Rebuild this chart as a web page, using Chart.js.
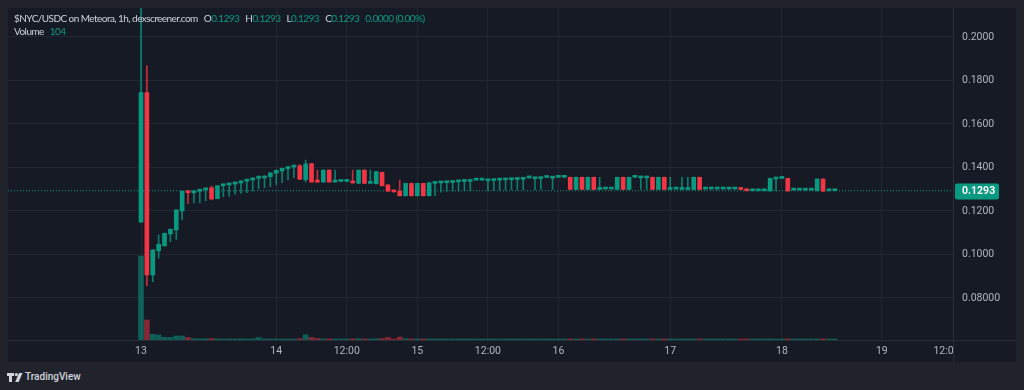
<!DOCTYPE html>
<html>
<head>
<meta charset="utf-8">
<title>$NYC/USDC on Meteora</title>
<script src="https://cdn.jsdelivr.net/npm/chart.js@4.4.1/dist/chart.umd.min.js"></script>
<style>
    html, body { margin: 0; padding: 0; width: 1024px; height: 390px; overflow: hidden; background: #20232c; font-family: Roboto, sans-serif; }
    #frame { position: absolute; left: 8px; top: 8px; width: 1008px; height: 354px; background: #161a25; }
    #chart { position: absolute; left: 0; top: 0; }
    #legend { position: absolute; left: 6px; top: 4px; font-family: Lato, sans-serif; font-size: 10px; line-height: 13px; letter-spacing: -0.55px; color: #d1d4dc; pointer-events: none; white-space: nowrap; }
    #legend .val { color: #089981; }
    #legend .gap { margin-left: 6px; }
    #brand { position: absolute; left: 7px; top: 371px; color: #d1d4dc; font-size: 10px; font-weight: 500; display: flex; align-items: center; gap: 2px; }
</style>
</head>
<body>
<div id="frame">
    <canvas id="chart" width="1008" height="354"></canvas>
    <div id="legend">
        <div id="legendLine1"></div>
        <div id="legendLine2"></div>
    </div>
</div>
<div id="brand">
    <svg width="16" height="10" viewBox="0 0 16 10"><path d="M0 1h7v3H5v6H2V4H0z M12 1h3.5l-3.8 9H8.2z" fill="#d1d4dc"/><circle cx="9.3" cy="2.6" r="1.6" fill="#d1d4dc"/></svg>
    <span>TradingView</span>
</div>
<script>
// ============================================
// $NYC/USDC - 1h candles (Meteora, dexscreener)
// ============================================

const pairName = '$NYC/USDC on Meteora, 1h, dexscreener.com';

// OHLC per hourly bar (bar 0 = 13th 00:00)
const opens = [
    0.1149, 0.1744, 0.0906, 0.1017, 0.1040, 0.1094, 0.1113, 0.1200, 0.1292, 0.1284,
    0.1291, 0.1297, 0.1307, 0.1257, 0.1316, 0.1320, 0.1324, 0.1329, 0.1337, 0.1343,
    0.1350, 0.1352, 0.1358, 0.1374, 0.1384, 0.1395, 0.1402, 0.1408, 0.1344, 0.1418,
    0.1338, 0.1333, 0.1388, 0.1333, 0.1336, 0.1336, 0.1333, 0.1327, 0.1388, 0.1327,
    0.1325, 0.1378, 0.1320, 0.1293, 0.1291, 0.1270, 0.1327, 0.1270, 0.1327, 0.1270,
    0.1327, 0.1329, 0.1330, 0.1331, 0.1334, 0.1336, 0.1336, 0.1342, 0.1342, 0.1339,
    0.1340, 0.1342, 0.1343, 0.1344, 0.1345, 0.1346, 0.1352, 0.1348, 0.1349, 0.1354,
    0.1351, 0.1355, 0.1355, 0.1355, 0.1299, 0.1355, 0.1299, 0.1355, 0.1299, 0.1301,
    0.1301, 0.1299, 0.1355, 0.1299, 0.1355, 0.1352, 0.1352, 0.1355, 0.1299, 0.1355,
    0.1299, 0.1301, 0.1299, 0.1299, 0.1299, 0.1355, 0.1301, 0.1301, 0.1301, 0.1301,
    0.1301, 0.1301, 0.1302, 0.1301, 0.1293, 0.1293, 0.1293, 0.1292, 0.1347, 0.1350,
    0.1350, 0.1296, 0.1296, 0.1296, 0.1296, 0.1293, 0.1347, 0.1293, 0.1293
];
const highs = [
    0.2500, 0.1867, 0.1022, 0.1090, 0.1099, 0.1118, 0.1206, 0.1292, 0.1294, 0.1293,
    0.1299, 0.1307, 0.1315, 0.1317, 0.1322, 0.1327, 0.1333, 0.1339, 0.1347, 0.1353,
    0.1361, 0.1362, 0.1376, 0.1388, 0.1397, 0.1405, 0.1409, 0.1413, 0.1434, 0.1419,
    0.1388, 0.1389, 0.1389, 0.1388, 0.1337, 0.1337, 0.1388, 0.1389, 0.1389, 0.1388,
    0.1382, 0.1379, 0.1321, 0.1294, 0.1342, 0.1328, 0.1328, 0.1328, 0.1328, 0.1331,
    0.1331, 0.1334, 0.1335, 0.1336, 0.1339, 0.1341, 0.1341, 0.1343, 0.1343, 0.1344,
    0.1345, 0.1347, 0.1348, 0.1349, 0.1350, 0.1351, 0.1353, 0.1353, 0.1354, 0.1355,
    0.1356, 0.1356, 0.1356, 0.1356, 0.1356, 0.1356, 0.1356, 0.1356, 0.1355, 0.1302,
    0.1302, 0.1356, 0.1356, 0.1356, 0.1356, 0.1357, 0.1357, 0.1356, 0.1356, 0.1356,
    0.1355, 0.1302, 0.1355, 0.1355, 0.1356, 0.1356, 0.1302, 0.1302, 0.1302, 0.1302,
    0.1302, 0.1302, 0.1303, 0.1302, 0.1297, 0.1297, 0.1297, 0.1351, 0.1351, 0.1351,
    0.1351, 0.1297, 0.1297, 0.1297, 0.1297, 0.1348, 0.1348, 0.1294, 0.1293
];
const lows = [
    0.1149, 0.0857, 0.0875, 0.0984, 0.1038, 0.1059, 0.1070, 0.1159, 0.1235, 0.1237,
    0.1238, 0.1247, 0.1251, 0.1256, 0.1266, 0.1268, 0.1277, 0.1281, 0.1284, 0.1292,
    0.1301, 0.1307, 0.1312, 0.1320, 0.1330, 0.1343, 0.1353, 0.1345, 0.1333, 0.1332,
    0.1332, 0.1332, 0.1332, 0.1332, 0.1335, 0.1335, 0.1328, 0.1326, 0.1326, 0.1326,
    0.1324, 0.1315, 0.1290, 0.1287, 0.1269, 0.1269, 0.1269, 0.1269, 0.1269, 0.1269,
    0.1270, 0.1287, 0.1290, 0.1291, 0.1292, 0.1293, 0.1293, 0.1341, 0.1341, 0.1295,
    0.1295, 0.1296, 0.1296, 0.1297, 0.1297, 0.1298, 0.1351, 0.1298, 0.1299, 0.1353,
    0.1299, 0.1354, 0.1354, 0.1299, 0.1298, 0.1299, 0.1298, 0.1299, 0.1298, 0.1300,
    0.1300, 0.1298, 0.1299, 0.1298, 0.1354, 0.1299, 0.1299, 0.1299, 0.1298, 0.1299,
    0.1298, 0.1300, 0.1298, 0.1298, 0.1298, 0.1299, 0.1300, 0.1300, 0.1300, 0.1300,
    0.1300, 0.1300, 0.1298, 0.1292, 0.1292, 0.1292, 0.1292, 0.1291, 0.1292, 0.1349,
    0.1291, 0.1295, 0.1295, 0.1295, 0.1295, 0.1292, 0.1290, 0.1292, 0.1293
];
const closes = [
    0.1744, 0.0906, 0.1021, 0.1047, 0.1097, 0.1116, 0.1205, 0.1291, 0.1284, 0.1292,
    0.1298, 0.1306, 0.1255, 0.1316, 0.1321, 0.1326, 0.1332, 0.1338, 0.1346, 0.1352,
    0.1360, 0.1361, 0.1375, 0.1387, 0.1396, 0.1404, 0.1408, 0.1346, 0.1416, 0.1333,
    0.1333, 0.1388, 0.1333, 0.1338, 0.1336, 0.1336, 0.1329, 0.1388, 0.1327, 0.1330,
    0.1381, 0.1316, 0.1291, 0.1288, 0.1270, 0.1327, 0.1270, 0.1327, 0.1270, 0.1330,
    0.1330, 0.1333, 0.1334, 0.1335, 0.1338, 0.1340, 0.1340, 0.1342, 0.1342, 0.1343,
    0.1344, 0.1346, 0.1347, 0.1348, 0.1349, 0.1350, 0.1352, 0.1352, 0.1353, 0.1354,
    0.1355, 0.1355, 0.1355, 0.1299, 0.1355, 0.1299, 0.1355, 0.1299, 0.1302, 0.1301,
    0.1301, 0.1355, 0.1299, 0.1355, 0.1355, 0.1356, 0.1356, 0.1299, 0.1355, 0.1299,
    0.1302, 0.1301, 0.1302, 0.1302, 0.1355, 0.1299, 0.1301, 0.1301, 0.1301, 0.1301,
    0.1301, 0.1301, 0.1299, 0.1293, 0.1296, 0.1296, 0.1296, 0.1350, 0.1350, 0.1350,
    0.1292, 0.1296, 0.1296, 0.1296, 0.1296, 0.1347, 0.1291, 0.1293, 0.1293
];
const volumes = [
    84000, 20000, 5700, 5000, 2700, 2700, 4000, 4000, 2600, 1300,
    1200, 1200, 1500, 1300, 1000, 1100, 1000, 1200, 1000, 1100,
    2500, 1100, 1000, 1100, 900, 1000, 1000, 1400, 5200, 2600,
    1500, 1200, 1300, 900, 700, 700, 1100, 1300, 1200, 900,
    1200, 1400, 2600, 1000, 2900, 1300, 1200, 1200, 1100, 1100,
    900, 850, 800, 820, 900, 860, 800, 600, 600, 800,
    820, 780, 800, 840, 800, 760, 600, 800, 780, 600,
    820, 600, 600, 1100, 1000, 1200, 1000, 1100, 700, 500,
    500, 1000, 1100, 1000, 600, 800, 800, 1100, 1000, 1200,
    700, 500, 700, 700, 1000, 1100, 500, 500, 500, 500,
    500, 500, 700, 900, 600, 600, 600, 1100, 800, 600,
    1200, 500, 500, 500, 500, 1000, 1100, 300, 104
];

// Time axis: bar index where each label sits
const timeTickIndex = [0, 23, 35, 47, 59, 71, 90, 109, 126, 137];
const timeTickLabels = ['13', '14', '12:00', '15', '12:00', '16', '17', '18', '19', '12:00'];

// Price axis
const priceTicks = [0.08, 0.10, 0.12, 0.14, 0.16, 0.18, 0.20];
const priceTickLabels = ['0.08000', '0.1000', '0.1200', '0.1400', '0.1600', '0.1800', '0.2000'];

// Visible window
const X_MIN = -22.62;
const X_MAX = 138.1;
const Y_MIN = 0.06069;
const Y_MAX = 0.21333;
const VOL_MAX = 332000;

// Colours
const UP = '#089981';
const DOWN = '#f23645';
const UP_WICK = 'rgba(8, 153, 129, 0.8)';
const DOWN_WICK = 'rgba(242, 54, 69, 0.8)';
const UP_VOL = 'rgba(8, 153, 129, 0.55)';
const DOWN_VOL = 'rgba(242, 54, 69, 0.5)';
const BG = '#161a25';
const GRID = '#222632';
const LINE = '#2a2e39';
const TEXT = '#b2b5be';

const isUp = i => closes[i] >= opens[i];
const candleColors = opens.map((o, i) => isUp(i) ? UP : DOWN);
const wickColors = opens.map((o, i) => isUp(i) ? UP_WICK : DOWN_WICK);
const volumeColors = opens.map((o, i) => isUp(i) ? UP_VOL : DOWN_VOL);

// Legend (last bar values)
const last = opens.length - 1;
const fmt = v => v.toFixed(4);
const change = closes[last] - opens[last];
const changePct = (change / opens[last] * 100).toFixed(2);
document.getElementById('legendLine1').innerHTML =
    `${pairName}` +
    `<span class="gap">O<span class="val">${fmt(opens[last])}</span></span>` +
    `<span class="gap">H<span class="val">${fmt(highs[last])}</span></span>` +
    `<span class="gap">L<span class="val">${fmt(lows[last])}</span></span>` +
    `<span class="gap">C<span class="val">${fmt(closes[last])}</span></span>` +
    `<span class="gap val">${fmt(change)} (${changePct}%)</span>`;
document.getElementById('legendLine2').innerHTML =
    `Volume<span class="val" style="margin-left:6px">${volumes[last]}</span>`;

// Overlay: separators, clipped corner and last price tag
const overlayPlugin = {
    id: 'tvOverlay',
    afterDraw(chart) {
        const { ctx, chartArea: a, width, height } = chart;
        ctx.save();
        // the time label past the pane gets cut by the price scale
        ctx.fillStyle = BG;
        ctx.fillRect(a.right + 1, a.bottom + 1, width - a.right, height - a.bottom);

        ctx.strokeStyle = LINE;
        ctx.lineWidth = 1;
        ctx.beginPath();
        ctx.moveTo(Math.round(a.right) + 0.5, 0);
        ctx.lineTo(Math.round(a.right) + 0.5, height);
        ctx.moveTo(0, Math.round(a.bottom) + 0.5);
        ctx.lineTo(width, Math.round(a.bottom) + 0.5);
        ctx.stroke();

        const y = chart.scales.y.getPixelForValue(closes[last]);
        ctx.fillStyle = UP;
        ctx.beginPath();
        ctx.roundRect(a.right + 2, Math.round(y) - 7.5, 44, 16, 2);
        ctx.fill();
        ctx.fillStyle = '#ffffff';
        ctx.font = 'bold 10.5px Roboto';
        ctx.textBaseline = 'middle';
        ctx.textAlign = 'left';
        ctx.fillText(fmt(closes[last]), a.right + 9, Math.round(y) + 0.5);
        ctx.restore();
    }
};

const ctx = document.getElementById('chart');
new Chart(ctx, {
    type: 'bar',
    data: {
        datasets: [
            {
                label: 'Body',
                data: opens.map((o, i) => ({ x: i, y: [o, closes[i]] })),
                backgroundColor: candleColors,
                barThickness: 4,
                minBarLength: 2,
                grouped: false,
                yAxisID: 'y'
            },
            {
                label: 'Wick',
                data: lows.map((l, i) => ({ x: i, y: [l, highs[i]] })),
                backgroundColor: wickColors,
                barThickness: 1,
                grouped: false,
                yAxisID: 'y'
            },
            {
                type: 'line',
                label: 'Last price',
                data: [{ x: X_MIN, y: closes[last] }, { x: X_MAX, y: closes[last] }],
                borderColor: UP,
                borderWidth: 1,
                borderDash: [1, 2],
                pointRadius: 0,
                yAxisID: 'y'
            },
            {
                label: 'Volume',
                data: volumes.map((v, i) => ({ x: i, y: v })),
                backgroundColor: volumeColors,
                barThickness: 5,
                minBarLength: 1,
                grouped: false,
                yAxisID: 'vol'
            }
        ]
    },
    options: {
        responsive: false,
        animation: false,
        devicePixelRatio: 1,
        layout: { padding: 0, autoPadding: false },
        plugins: {
            legend: { display: false },
            tooltip: { enabled: false }
        },
        scales: {
            x: {
                type: 'linear',
                min: X_MIN,
                max: X_MAX,
                offset: false,
                grid: {
                    offset: false,
                    drawTicks: false,
                    // no grid line for the label squeezed against the price scale
                    color: c => (c.tick && c.index === timeTickIndex.length - 1) ? 'rgba(0,0,0,0)' : GRID
                },
                border: { display: false },
                afterBuildTicks: s => { s.ticks = timeTickIndex.map(v => ({ value: v })); },
                ticks: {
                    autoSkip: false,
                    maxRotation: 0,
                    padding: 5,
                    color: TEXT,
                    font: { family: 'Roboto', size: 10.5 },
                    callback: (v, i) => timeTickLabels[i]
                },
                afterFit: s => { s.height = 22; s.paddingLeft = 0; s.paddingRight = 0; }
            },
            y: {
                position: 'right',
                min: Y_MIN,
                max: Y_MAX,
                grid: { color: GRID, drawTicks: false },
                border: { display: false },
                afterBuildTicks: s => { s.ticks = priceTicks.map(v => ({ value: v })); },
                ticks: {
                    padding: 9,
                    color: TEXT,
                    font: { family: 'Roboto', size: 10.5 },
                    callback: (v, i) => priceTickLabels[i]
                },
                afterFit: s => { s.width = 63; s.paddingTop = 0; s.paddingBottom = 0; }
            },
            vol: {
                display: false,
                min: 0,
                max: VOL_MAX
            }
        }
    },
    plugins: [overlayPlugin]
});

console.log('chart ready');
</script>
</body>
</html>
